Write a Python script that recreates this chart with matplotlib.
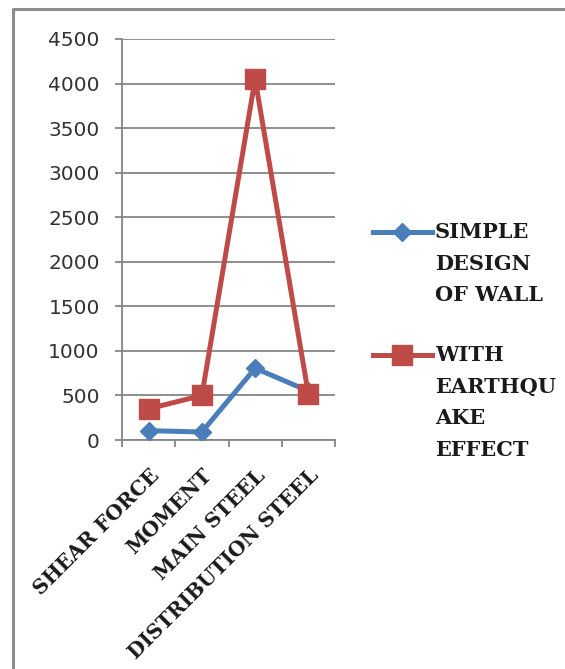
import matplotlib
matplotlib.use("Agg")
import matplotlib.pyplot as plt
from matplotlib.lines import Line2D

# Data
categories = ["SHEAR FORCE", "MOMENT", "MAIN STEEL", "DISTRIBUTION STEEL"]
simple_design = [105, 90, 805, 550]
with_earthquake = [350, 500, 4050, 515]
series_labels = [["SIMPLE", "DESIGN", "OF WALL"], ["WITH", "EARTHQU", "AKE", "EFFECT"]]
y_ticks = [0, 500, 1000, 1500, 2000, 2500, 3000, 3500, 4000, 4500]

BLUE = "#4A7EBB"
RED = "#BE4B48"
GRID = "#868686"
SERIF = ["DejaVu Serif"]

W, H = 565, 669
fig = plt.figure(figsize=(W / 100, H / 100), dpi=100)
fig.patch.set_facecolor("white")

ax = fig.add_axes([122 / W, 1 - 440 / H, 213 / W, 401 / H])
x = list(range(len(categories)))

ax.plot(x, simple_design, color=BLUE, lw=3.6, marker="D", ms=9,
        markerfacecolor=BLUE, markeredgecolor=BLUE, zorder=3)
ax.plot(x, with_earthquake, color=RED, lw=3.6, marker="s", ms=14,
        markerfacecolor=RED, markeredgecolor=RED, zorder=3)

ax.set_xlim(-0.5, len(categories) - 0.5)
ax.set_ylim(0, 4500)
ax.set_yticks(y_ticks)
ax.set_yticklabels([str(v) for v in y_ticks], fontsize=14.5, color="#333333")
ax.yaxis.grid(True, color=GRID, lw=1.3)
ax.set_axisbelow(True)

ax.set_xticks(x)
ax.set_xticklabels(categories, rotation=45, ha="right", va="top",
                   rotation_mode="anchor", fontsize=14.5, fontweight="bold",
                   family=SERIF, color="#1a1a1a")
ax.set_xticks([i - 0.5 for i in range(len(categories) + 1)], minor=True)
ax.tick_params(axis="x", which="major", length=0, pad=18)
ax.tick_params(axis="x", which="minor", length=5, width=1.3, color=GRID, direction="out")
ax.tick_params(axis="y", length=5, width=1.3, color=GRID, pad=11)

for side in ("top", "right"):
    ax.spines[side].set_visible(False)
for side in ("left", "bottom"):
    ax.spines[side].set_color(GRID)
    ax.spines[side].set_linewidth(1.3)

# Legend drawn beside the plot
legend_rows = [(232, BLUE, "D", 9, series_labels[0]),
               (355, RED, "s", 14, series_labels[1])]
for y_px, col, mk, ms, lines in legend_rows:
    yf = 1 - y_px / H
    fig.add_artist(Line2D([373 / W, 432 / W], [yf, yf], color=col, lw=3.6,
                          transform=fig.transFigure))
    fig.add_artist(Line2D([402 / W], [yf], color=col, marker=mk, ms=ms,
                          markerfacecolor=col, markeredgecolor=col,
                          transform=fig.transFigure))
    for k, txt in enumerate(lines):
        fig.text(435 / W, 1 - (y_px + 31.5 * k) / H, txt, fontsize=15,
                 fontweight="bold", family=SERIF, color="#1a1a1a",
                 ha="left", va="center")

# Chart frame
fig.add_artist(Line2D([12.5 / W, 12.5 / W, 1.0], [0.0, 1 - 9 / H, 1 - 9 / H],
                      color="#8c8c8c", lw=2.2, transform=fig.transFigure))

fig.savefig("out.png", dpi=100)
